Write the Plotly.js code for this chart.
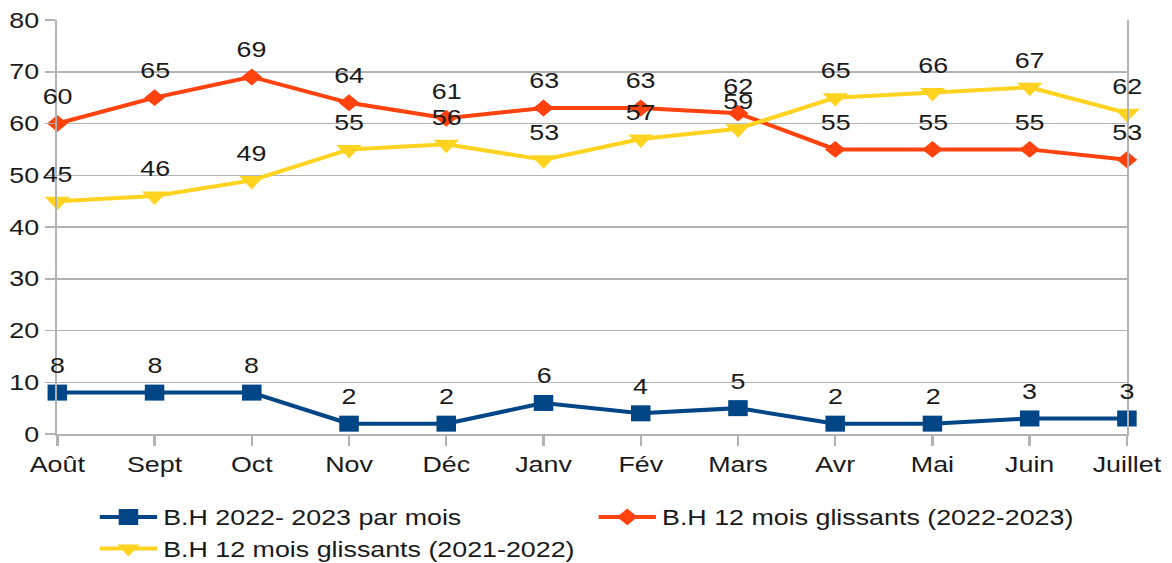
<!DOCTYPE html>
<html>
<head>
<meta charset="utf-8">
<script src="https://cdn.plot.ly/plotly-3.0.1.min.js"></script>
<style>
html,body{margin:0;padding:0;background:#fff;overflow:hidden;width:1172px;height:563px;}
#chart{width:961px;height:600px;transform:scaleX(1.2196);transform-origin:0 0;}
</style>
</head>
<body>
<div id="chart"></div>
<script>
const months = ["Août","Sept","Oct","Nov","Déc","Janv","Fév","Mars","Avr","Mai","Juin","Juillet"];
const seriesNames = ["B.H 2022- 2023 par mois","B.H 12 mois glissants (2022-2023)","B.H 12 mois glissants (2021-2022)"];
const bhMonthly = [8,8,8,2,2,6,4,5,2,2,3,3];
const bhRolling2223 = [60,65,69,64,61,63,63,62,55,55,55,53];
const bhRolling2122 = [45,46,49,55,56,53,57,59,65,66,67,62];
const yTicks = [0,10,20,30,40,50,60,70,80];

const colors = ["#004586","#ff420e","#ffd320"];
const symbols = ["square","diamond","triangle-down"];
const sizes = [16,13,18];
const allSeries = [bhMonthly, bhRolling2223, bhRolling2122];
const FONT = "Liberation Sans, Arial, sans-serif";

const traces = allSeries.map((vals,i)=>({
  type:"scatter", mode:"lines+markers", name:seriesNames[i],
  x:months, y:vals,
  line:{color:colors[i], width:4},
  marker:{symbol:symbols[i], size:sizes[i], color:colors[i]},
  cliponaxis:false
}));

const annotations = [];
allSeries.forEach(vals=>{
  vals.forEach((v,j)=>{
    annotations.push({x:months[j], y:v, xref:"x", yref:"y", text:String(v), showarrow:false,
      yshift:27, font:{family:FONT, size:22, color:"#1a1a1a"}});
  });
});

const layout = {
  width:961, height:600,
  margin:{l:47, r:37, t:20, b:166},
  paper_bgcolor:"#fff", plot_bgcolor:"#fff",
  font:{family:FONT, size:22, color:"#1a1a1a"},
  showlegend:true,
  legend:{orientation:"h", x:0.034, xanchor:"left", y:-0.15, yanchor:"top",
    entrywidth:347, itemwidth:47, font:{size:22, color:"#1a1a1a"}, tracegroupgap:0},
  xaxis:{type:"category", range:[0,11], showgrid:false, showline:true, linecolor:"#b3b3b3", linewidth:2,
    ticks:"outside", ticklen:10, tickcolor:"#b3b3b3", tickwidth:2,
    tickfont:{size:22}, zeroline:false},
  yaxis:{range:[0,80], tickvals:yTicks, showgrid:true, gridcolor:"#b3b3b3", gridwidth:1.5,
    showline:true, linecolor:"#b3b3b3", linewidth:1.5, mirror:true,
    ticks:"outside", ticklen:9, tickcolor:"#b3b3b3", tickwidth:1.5, tickfont:{size:22},
    zeroline:false},
  annotations:annotations
};

Plotly.newPlot("chart", traces, layout, {staticPlot:true});
</script>
</body>
</html>
